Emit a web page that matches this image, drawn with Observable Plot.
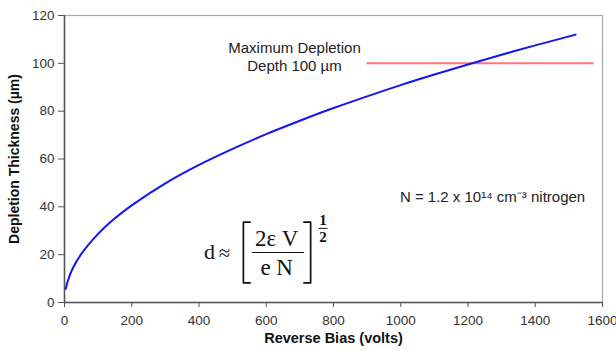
<!DOCTYPE html>
<html>
<head>
<meta charset="utf-8">
<script src="https://cdn.jsdelivr.net/npm/d3@7"></script>
<script src="https://cdn.jsdelivr.net/npm/@observablehq/plot@0.6"></script>
<style>
  body { margin: 0; background: #fff; }
  #chart { width: 616px; height: 350px; }
</style>
</head>
<body>
<div id="chart"></div>
<script>
// Depletion depth vs. reverse bias for N = 1.2e14 cm^-3 nitrogen-doped material
const biasVolts = [4, 10, 25, 50, 100, 150, 200, 300, 400, 500, 600, 700, 800, 900, 1000, 1100, 1200, 1300, 1400, 1520];
const thicknessUm = [5.7, 9.1, 14.4, 20.3, 28.7, 35.2, 40.6, 49.8, 57.5, 64.2, 70.4, 76.0, 81.3, 86.2, 90.9, 95.3, 99.5, 103.6, 107.5, 112.0];

const xTicks = [0, 200, 400, 600, 800, 1000, 1200, 1400, 1600];
const yTicks = [0, 20, 40, 60, 80, 100, 120];

// Maximum depletion depth marker
const maxDepthUm = 100;
const maxDepthFrom = 900;
const maxDepthTo = 1575;
const maxDepthLabel = "Maximum Depletion\nDepth 100 µm";
const dopingLabel = "N = 1.2 x 10¹⁴ cm⁻³ nitrogen";

const curve = biasVolts.map((v, i) => ({v, d: thicknessUm[i]}));
const maxDepthRule = [{y: maxDepthUm, x1: maxDepthFrom, x2: maxDepthTo}];

const sans = "'Liberation Sans', Arial, Helvetica, sans-serif";
const serif = "'Liberation Serif', 'Times New Roman', serif";

// Formula d ≈ [2εV / eN]^(1/2), laid out in the chart's own units
const formulaText = [
  {x: 431, y: 18.0, t: "d", size: 22, anchor: "bottom", weight: "normal"},
  {x: 476, y: 20.5, t: "≈", size: 21, anchor: "middle", weight: "normal"},
  {x: 631, y: 23.8, t: "2ε V", size: 23, anchor: "bottom", weight: "normal"},
  {x: 631, y: 11.3, t: "e N", size: 23, anchor: "bottom", weight: "normal"},
  {x: 769, y: 32.4, t: "1", size: 15, anchor: "bottom", weight: "bold"},
  {x: 769, y: 25.1, t: "2", size: 15, anchor: "bottom", weight: "bold"}
];
const leftBracket = [{x: 552, y: 33.6}, {x: 532, y: 33.6}, {x: 532, y: 8.2}, {x: 552, y: 8.2}];
const rightBracket = [{x: 712, y: 33.6}, {x: 732, y: 33.6}, {x: 732, y: 8.2}, {x: 712, y: 8.2}];
const fractionBar = [{x: 559, y: 20.9}, {x: 711, y: 20.9}];
const exponentBar = [{x: 757, y: 31.0}, {x: 781, y: 31.0}];

const formulaMarks = formulaText.map(f =>
  Plot.text([f], {
    x: "x", y: "y", text: "t",
    fontFamily: serif, fontSize: f.size, fontWeight: f.weight,
    lineAnchor: f.anchor, textAnchor: "middle", fill: "#111"
  })
);

const chart = Plot.plot({
  width: 616,
  height: 350,
  marginLeft: 64,
  marginRight: 14,
  marginTop: 15,
  marginBottom: 48,
  style: {fontFamily: sans, background: "#fff", overflow: "visible"},
  x: {domain: [0, 1600]},
  y: {domain: [0, 120]},
  marks: [
    Plot.frame({stroke: "#a8a8a8", strokeWidth: 1.2}),
    Plot.ruleX([0], {stroke: "#555", strokeWidth: 1.5}),
    Plot.ruleY([0], {stroke: "#555", strokeWidth: 1.5}),
    Plot.axisX({
      ticks: xTicks, tickFormat: d => String(d), tickSize: 5, tickPadding: 8,
      stroke: "#555", fill: "#333", fontSize: 13.5, label: null
    }),
    Plot.axisY({
      ticks: yTicks, tickFormat: d => String(d), tickSize: 6, tickPadding: 4,
      stroke: "#555", fill: "#333", fontSize: 13.5, label: null
    }),
    Plot.text(["Reverse Bias (volts)"], {
      frameAnchor: "bottom", dy: 40, fontWeight: "bold", fontSize: 14.5, fill: "#111"
    }),
    Plot.text(["Depletion Thickness (µm)"], {
      frameAnchor: "left", dx: -50, rotate: -90, textAnchor: "middle",
      fontWeight: "bold", fontSize: 14, fill: "#111"
    }),
    Plot.ruleY(maxDepthRule, {y: "y", x1: "x1", x2: "x2", stroke: "#ff7676", strokeWidth: 2}),
    Plot.line(curve, {x: "v", y: "d", stroke: "#1414f5", strokeWidth: 2, curve: "catmull-rom"}),
    Plot.text([maxDepthLabel], {
      x: 684, y: 96.9, lineAnchor: "bottom", lineHeight: 1.2,
      fontSize: 15, fill: "#222", textAnchor: "middle"
    }),
    Plot.text([dopingLabel], {
      x: 1273, y: 42.2, lineAnchor: "bottom", fontSize: 15, fill: "#222", textAnchor: "middle"
    }),
    Plot.line(leftBracket, {x: "x", y: "y", stroke: "#111", strokeWidth: 1.7}),
    Plot.line(rightBracket, {x: "x", y: "y", stroke: "#111", strokeWidth: 1.7}),
    Plot.line(fractionBar, {x: "x", y: "y", stroke: "#111", strokeWidth: 1.2}),
    Plot.line(exponentBar, {x: "x", y: "y", stroke: "#111", strokeWidth: 1}),
    ...formulaMarks
  ]
});

document.getElementById("chart").appendChild(chart);
</script>
</body>
</html>
